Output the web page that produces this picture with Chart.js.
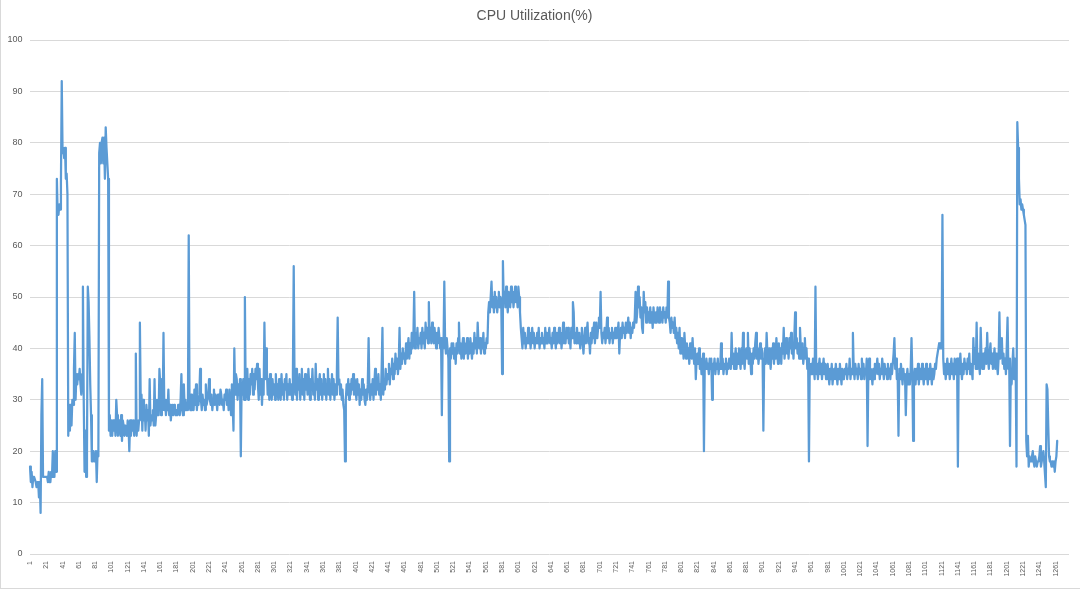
<!DOCTYPE html>
<html>
<head>
<meta charset="utf-8">
<script src="https://cdn.jsdelivr.net/npm/chart.js@4.4.1/dist/chart.umd.min.js"></script>
<style>
  html, body { margin: 0; padding: 0; background: #ffffff; }
  #wrap { position: relative; width: 1080px; height: 590px; overflow: hidden; }
  #frame { position: absolute; left: 0; top: 0; width: 1079px; height: 588px; border-left: 1px solid #D9D9D9; border-bottom: 1px solid #D9D9D9; pointer-events: none; }
  canvas { position: absolute; left: 0; top: 0; }
</style>
</head>
<body>
<div id="wrap">
  <canvas id="chart" width="1080" height="590"></canvas>
  <div id="frame"></div>
</div>
<script>
const chartTitle = 'CPU Utilization(%)';
const categoryCount = 1277;
const labelEvery = 20;
const yTicks = [0, 10, 20, 30, 40, 50, 60, 70, 80, 90, 100];

const cpuUtilization = [
17,14,16,13,15,15,15,14,13,14,14,11,14,8,27,34,15,15,15,15,
15,15,14,16,14,14,16,15,20,15,15,20,16,73,66,66,68,67,72,92,
78,79,77,79,73,74,70,23,29,24,29,25,30,29,36,43,30,35,33,35,
34,36,33,31,35,52,30,16,24,15,20,52,49,42,33,27,18,18,20,18,
18,20,14,20,19,78,80,76,80,81,76,81,73,83,79,76,73,24,27,23,
26,23,26,24,26,23,30,27,23,25,26,23,27,22,26,25,23,25,24,23,
26,25,20,26,23,26,24,26,23,26,39,23,26,24,26,45,30,31,24,30,
26,28,24,29,26,28,23,34,25,27,26,28,25,34,25,27,30,28,27,36,
33,27,34,28,43,28,30,27,29,28,32,27,29,26,28,29,27,29,28,27,
28,27,29,28,27,30,35,28,27,33,28,30,28,29,28,62,29,28,31,28,
30,28,32,29,33,28,30,29,31,36,30,28,31,29,30,28,33,29,30,31,
34,30,29,31,28,30,32,29,31,30,28,31,30,29,32,31,29,30,28,31,
30,32,29,31,28,32,30,27,33,29,24,40,31,35,34,30,33,31,34,19,
33,31,34,30,50,30,33,36,30,34,31,35,33,36,31,35,32,36,34,37,
33,30,36,31,34,29,33,31,45,34,40,36,31,34,30,35,32,30,34,31,
33,30,35,31,33,30,34,32,30,35,31,33,30,34,32,35,30,33,31,34,
31,33,30,35,56,33,31,36,30,34,32,35,30,33,36,31,34,30,35,32,
34,31,36,33,30,34,32,36,31,33,30,37,32,34,30,33,35,31,34,30,
33,35,31,34,30,33,36,31,34,30,33,35,31,34,30,33,31,35,46,33,
34,31,33,30,32,29,28,18,30,33,31,34,30,33,31,34,32,35,31,34,
32,30,34,31,33,29,32,30,34,31,33,30,29,32,30,33,42,32,30,33,
31,34,30,33,36,31,34,32,35,31,33,30,36,44,31,34,32,36,33,35,
34,37,33,36,35,38,34,37,35,39,36,38,35,37,44,36,39,37,40,38,
39,37,41,38,40,42,38,41,39,43,40,42,51,40,43,41,44,40,42,41,
43,40,44,41,43,40,45,42,44,41,49,42,44,41,45,43,41,44,42,40,
43,41,44,42,40,42,27,42,40,53,41,39,42,40,38,18,40,38,41,39,
41,38,40,37,41,39,42,45,39,41,38,40,42,38,41,39,40,42,38,41,
39,42,40,38,41,39,43,40,42,39,45,41,40,42,39,41,40,43,39,41,
40,42,41,47,49,47,50,53,48,50,47,51,48,50,47,49,51,48,50,49,
35,57,49,51,48,52,49,47,51,50,48,52,49,51,48,50,52,49,51,48,
52,50,47,44,42,40,44,41,43,40,42,41,44,41,43,40,42,44,41,43,
40,42,41,43,41,44,40,42,41,43,41,42,40,44,41,43,41,42,44,41,
42,40,43,41,44,42,40,43,41,42,44,41,43,40,42,45,41,43,41,44,
42,44,41,43,40,44,42,49,47,41,43,41,44,42,41,43,40,42,44,41,
39,42,44,41,43,45,41,42,39,43,41,44,42,45,41,43,45,42,44,46,
44,51,43,41,43,42,44,41,43,46,42,44,41,43,42,44,41,43,42,44,
42,44,43,45,39,43,44,42,45,43,44,42,45,43,44,46,43,45,42,44,
43,45,44,46,51,45,47,52,48,50,46,48,44,43,51,47,49,45,48,46,
47,45,48,45,47,44,48,46,45,47,45,48,46,45,48,46,47,45,48,46,
47,45,48,46,53,46,45,43,46,44,45,43,46,42,44,41,43,40,44,39,
42,39,41,38,43,40,38,41,39,40,37,41,39,38,42,39,37,40,34,38,
39,37,40,36,38,35,37,39,20,37,36,38,36,37,35,38,36,38,30,37,
36,38,35,37,36,38,35,37,36,41,36,38,35,37,36,38,35,37,36,38,
37,36,43,37,39,36,38,40,36,39,37,40,38,36,40,37,43,38,36,39,
40,38,43,37,40,38,35,39,37,40,38,41,43,38,40,37,39,41,38,40,
39,24,38,40,37,43,39,37,40,38,36,40,38,41,37,40,38,42,39,37,
41,38,40,37,41,39,44,38,40,42,39,41,38,42,40,43,39,41,38,42,
47,40,42,39,41,38,44,40,38,41,37,39,42,38,40,36,38,18,37,35,
37,35,38,36,34,52,35,37,34,36,38,35,37,34,36,38,35,37,34,36,
37,35,33,36,34,37,33,35,36,34,37,35,33,36,34,37,35,33,36,35,
34,36,35,37,34,36,35,38,34,36,35,43,36,34,37,35,36,34,37,35,
36,34,38,35,37,34,36,35,38,21,36,38,34,36,35,33,36,34,37,35,
36,38,35,37,34,36,35,38,36,34,37,35,36,34,37,35,36,34,37,35,
37,39,42,36,38,34,35,23,36,34,37,35,33,36,34,35,27,34,36,33,
35,33,36,42,35,22,34,36,33,36,34,37,33,35,36,34,37,35,33,36,
34,37,35,33,36,34,37,35,33,36,34,35,37,36,38,39,40,41,40,41,
40,66,38,35,37,34,36,38,35,37,34,36,38,35,37,34,38,35,37,38,
17,38,35,39,36,34,37,35,38,36,37,35,38,36,39,35,37,36,34,42,
37,40,36,45,36,39,37,35,44,38,36,39,36,38,40,37,43,38,36,39,
41,37,39,36,38,40,36,39,37,35,38,47,38,40,42,37,39,36,38,35,
40,46,36,38,21,36,33,37,40,34,38,36,17,84,79,73,68,69,67,68,
67,66,65,64,22,19,23,17,19,18,18,19,20,18,17,19,18,17,18,18,
19,21,17,18,19,20,18,18,13,33,32,25,19,18,18,17,18,17,18,16,
18,19,22
];

const categories = [];
for (let i = 1; i <= categoryCount; i++) categories.push(String(i));

const FONT = "'Liberation Sans', Arial, sans-serif";
const TEXT = '#595959';
const GRID = '#D9D9D9';

new Chart(document.getElementById('chart').getContext('2d'), {
  type: 'line',
  data: {
    labels: categories,
    datasets: [{
      label: chartTitle,
      data: cpuUtilization,
      borderColor: '#5B9BD5',
      backgroundColor: '#5B9BD5',
      borderWidth: 2.25,
      pointRadius: 0,
      pointHoverRadius: 0,
      tension: 0,
      fill: false,
      borderJoinStyle: 'round',
      borderCapStyle: 'round'
    }]
  },
  options: {
    responsive: false,
    animation: false,
    events: [],
    layout: { padding: { left: 0, right: 11, top: 0, bottom: 0 } },
    plugins: {
      legend: { display: false },
      tooltip: { enabled: false },
      title: {
        display: true,
        text: chartTitle,
        color: TEXT,
        font: { family: FONT, size: 14, weight: 'normal', lineHeight: 1.2 },
        padding: { top: 8, bottom: 15.2 }
      }
    },
    scales: {
      x: {
        type: 'category',
        offset: true,
        grid: { display: false, drawTicks: false },
        border: { display: false },
        ticks: {
          autoSkip: false,
          minRotation: 90,
          maxRotation: 90,
          padding: 7,
          color: TEXT,
          font: { family: FONT, size: 7 },
          callback: function (value, index) {
            return index % labelEvery === 0 ? categories[index] : null;
          }
        },
        afterFit: function (scale) { scale.height = 36; }
      },
      y: {
        min: 0,
        max: 100,
        afterBuildTicks: function (scale) { scale.ticks = yTicks.map(v => ({ value: v })); },
        ticks: { color: TEXT, padding: 7, font: { family: FONT, size: 9 } },
        grid: { color: GRID, lineWidth: 1, drawTicks: false },
        border: { display: false },
        afterFit: function (scale) { scale.width = 29.6; }
      }
    }
  }
});
</script>
</body>
</html>
